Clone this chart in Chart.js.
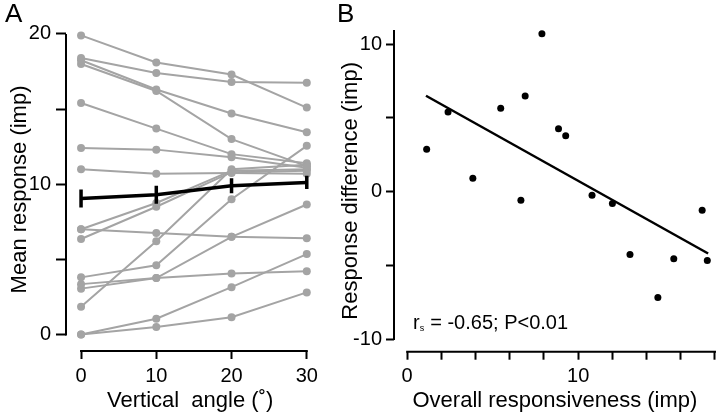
<!DOCTYPE html>
<html>
<head>
<meta charset="utf-8">
<script src="https://cdn.jsdelivr.net/npm/chart.js@4.4.1/dist/chart.umd.min.js"></script>
<style>
  html, body { margin: 0; padding: 0; background: #fff; }
  body { width: 720px; height: 419px; position: relative; overflow: hidden; }
  #chartA { position: absolute; left: 0; top: 0; }
  #chartB { position: absolute; left: 325px; top: 0; }
</style>
</head>
<body>
<canvas id="chartA" width="330" height="419"></canvas>
<canvas id="chartB" width="395" height="419"></canvas>
<script>
// Panel A: mean response of each cell at each vertical angle
var angles = [0, 10, 20, 30];
var cells = [
  [19.9, 18.1, 17.3, 15.1],
  [18.4, 17.4, 16.8, 16.75],
  [18.25, 16.3, 14.7, 13.45],
  [18.0, 16.2, 13.0, 11.2],
  [15.4, 13.7, 12.0, 11.4],
  [12.4, 12.3, 11.8, 11.1],
  [11.0, 10.7, 10.75, 10.7],
  [7.0, 8.75, 10.9, 11.0],
  [7.0, 6.75, 6.5, 6.4],
  [6.35, 8.5, 10.8, 10.9],
  [3.8, 4.6, 9.0, 12.55],
  [3.35, 3.75, 4.05, 4.2],
  [3.05, 3.75, 6.5, 8.65],
  [1.85, 6.2, 11.0, 11.3],
  [0, 1.05, 3.15, 5.35],
  [0, 0.5, 1.15, 2.8]
];
var meanResp = [9.05, 9.3, 9.9, 10.12];
var meanErr = [0.6, 0.6, 0.5, 0.44];
var xTicksA = [0, 10, 20, 30];
var yTicksA = [0, 5, 10, 15, 20];
var yLabelsA = [0, 10, 20];

// Panel B: response difference vs overall responsiveness
var respX = [1.14, 2.39, 3.84, 5.47, 6.65, 6.9, 7.88, 8.85, 9.27, 10.81, 12.0, 13.03, 14.66, 15.59, 17.25, 17.55];
var respY = [2.87, 5.4, 0.91, 5.65, -0.58, 6.49, 10.71, 4.27, 3.78, -0.25, -0.81, -4.27, -7.19, -4.56, -1.26, -4.68];
var fitX = [1.1, 17.6];
var fitY = [6.5, -4.2];
var xTicksB = [0, 2, 4, 6, 8, 10, 12, 14, 16, 18];
var xLabelsB = [0, 10];
var yTicksB = [-10, -5, 0, 5, 10];
var yLabelsB = [-10, 0, 10];

var FONT = "'Liberation Sans', Arial, sans-serif";
var GREY = '#a4a4a4';

Chart.defaults.color = '#000';
Chart.defaults.font.family = FONT;

// axis lines that only span part of the scale (detached look)
var axisLines = {
  id: 'axisLines',
  afterDraw: function (chart, args, opts) {
    var ctx = chart.ctx, xs = chart.scales.x, ys = chart.scales.y;
    var left = chart.chartArea.left, bottom = chart.chartArea.bottom;
    ctx.save();
    ctx.strokeStyle = '#000';
    ctx.lineWidth = 2;
    ctx.beginPath();
    ctx.moveTo(left, ys.getPixelForValue(opts.yFrom) + 1);
    ctx.lineTo(left, ys.getPixelForValue(opts.yTo));
    ctx.moveTo(xs.getPixelForValue(opts.xFrom) - 1, bottom);
    ctx.lineTo(xs.getPixelForValue(opts.xTo) + 1, bottom);
    ctx.stroke();
    // panel letter
    ctx.fillStyle = '#000';
    ctx.font = '26px ' + FONT;
    ctx.textBaseline = 'alphabetic';
    ctx.fillText(opts.letter, opts.letterX, 22);
    ctx.restore();
  }
};

var errorBars = {
  id: 'errorBars',
  afterDatasetsDraw: function (chart) {
    var ctx = chart.ctx, xs = chart.scales.x, ys = chart.scales.y;
    ctx.save();
    ctx.strokeStyle = '#000';
    ctx.lineWidth = 3.5;
    ctx.beginPath();
    for (var i = 0; i < angles.length; i++) {
      var px = xs.getPixelForValue(angles[i]);
      ctx.moveTo(px, ys.getPixelForValue(meanResp[i] - meanErr[i]));
      ctx.lineTo(px, ys.getPixelForValue(meanResp[i] + meanErr[i]));
    }
    ctx.stroke();
    ctx.restore();
  }
};

var statText = {
  id: 'statText',
  afterDraw: function (chart) {
    var ctx = chart.ctx, area = chart.chartArea;
    var x = area.left + 19, y = 329;
    ctx.save();
    ctx.fillStyle = '#000';
    ctx.textBaseline = 'alphabetic';
    ctx.font = '20px ' + FONT;
    ctx.fillText('r', x, y);
    var w = ctx.measureText('r').width;
    ctx.font = '9px ' + FONT;
    ctx.fillText('s', x + w, y + 2);
    ctx.font = '20px ' + FONT;
    ctx.fillText(' = -0.65; P<0.01', x + w + 5, y);
    ctx.restore();
  }
};

function fixedTicks(list) {
  return function (scale) {
    scale.ticks = list.map(function (v) { return { value: v }; });
  };
}

function labelOnly(list) {
  return function (v) {
    return list.indexOf(v) >= 0 ? String(v) : '';
  };
}

// ---- Panel A ----
var dsA = [{
  data: angles.map(function (a, i) { return { x: a, y: meanResp[i] }; }),
  borderColor: '#000',
  borderWidth: 3.5,
  pointRadius: 0,
  clip: false
}];
cells.forEach(function (c) {
  dsA.push({
    data: angles.map(function (a, i) { return { x: a, y: c[i] }; }),
    borderColor: GREY,
    backgroundColor: GREY,
    borderWidth: 2,
    pointRadius: 4,
    pointBorderWidth: 0,
    clip: false
  });
});

new Chart(document.getElementById('chartA').getContext('2d'), {
  type: 'line',
  data: { datasets: dsA },
  options: {
    responsive: false,
    animation: false,
    layout: { padding: { top: 27.9, right: 15.7, left: 0, bottom: 0 } },
    plugins: {
      legend: { display: false },
      tooltip: { enabled: false },
      axisLines: { yFrom: 0, yTo: 20, xFrom: 0, xTo: 30, letter: 'A', letterX: 5 }
    },
    scales: {
      x: {
        type: 'linear', min: -2, max: 31,
        afterBuildTicks: fixedTicks(xTicksA),
        afterFit: function (s) { s.height = 68; },
        border: { display: false },
        grid: { drawOnChartArea: false, tickLength: 8, tickWidth: 2, tickColor: '#000' },
        ticks: { autoSkip: false, maxRotation: 0, padding: 5, font: { size: 20 } },
        title: { display: true, text: 'Vertical  angle (\u02DA)', font: { size: 22 }, padding: { top: 0, bottom: 5 } }
      },
      y: {
        min: -1.1, max: 20.4,
        afterBuildTicks: fixedTicks(yTicksA),
        afterFit: function (s) { s.width = 66; },
        border: { display: false },
        grid: { drawOnChartArea: false, tickLength: 10, tickWidth: 2, tickColor: '#000' },
        ticks: { autoSkip: false, padding: 5, font: { size: 20 }, callback: labelOnly(yLabelsA) },
        title: { display: true, text: 'Mean response (imp)', font: { size: 22 }, padding: { top: 7, bottom: 0 } }
      }
    }
  },
  plugins: [axisLines, errorBars]
});

// ---- Panel B ----
new Chart(document.getElementById('chartB').getContext('2d'), {
  type: 'scatter',
  data: {
    datasets: [
      {
        data: respX.map(function (x, i) { return { x: x, y: respY[i] }; }),
        backgroundColor: '#000',
        pointRadius: 3.5,
        pointBorderWidth: 0,
        clip: false
      },
      {
        data: fitX.map(function (x, i) { return { x: x, y: fitY[i] }; }),
        showLine: true,
        borderColor: '#000',
        borderWidth: 2.5,
        pointRadius: 0,
        clip: false
      }
    ]
  },
  options: {
    responsive: false,
    animation: false,
    layout: { padding: { top: 30, right: 0, left: 0, bottom: 0 } },
    plugins: {
      legend: { display: false },
      tooltip: { enabled: false },
      axisLines: { yFrom: -10, yTo: 10.96, xFrom: 0, xTo: 18, letter: 'B', letterX: 12 }
    },
    scales: {
      x: {
        type: 'linear', min: -0.77, max: 18.05,
        afterBuildTicks: fixedTicks(xTicksB),
        afterFit: function (s) { s.height = 67.3; },
        border: { display: false },
        grid: { drawOnChartArea: false, tickLength: 8, tickWidth: 2, tickColor: '#000' },
        ticks: { autoSkip: false, maxRotation: 0, padding: 5, font: { size: 20 }, callback: labelOnly(xLabelsB) },
        title: { display: true, text: 'Overall responsiveness (imp)', font: { size: 22 }, padding: { top: 0, bottom: 5 } }
      },
      y: {
        min: -10.86, max: 10.96,
        afterBuildTicks: fixedTicks(yTicksB),
        afterFit: function (s) { s.width = 69; },
        border: { display: false },
        grid: { drawOnChartArea: false, tickLength: 8, tickWidth: 2, tickColor: '#000' },
        ticks: { autoSkip: false, padding: 4, font: { size: 20 }, callback: labelOnly(yLabelsB) },
        title: { display: true, text: 'Response difference (imp)', font: { size: 22 }, padding: { top: 13, bottom: 0 } }
      }
    }
  },
  plugins: [axisLines, statText]
});
</script>
</body>
</html>
